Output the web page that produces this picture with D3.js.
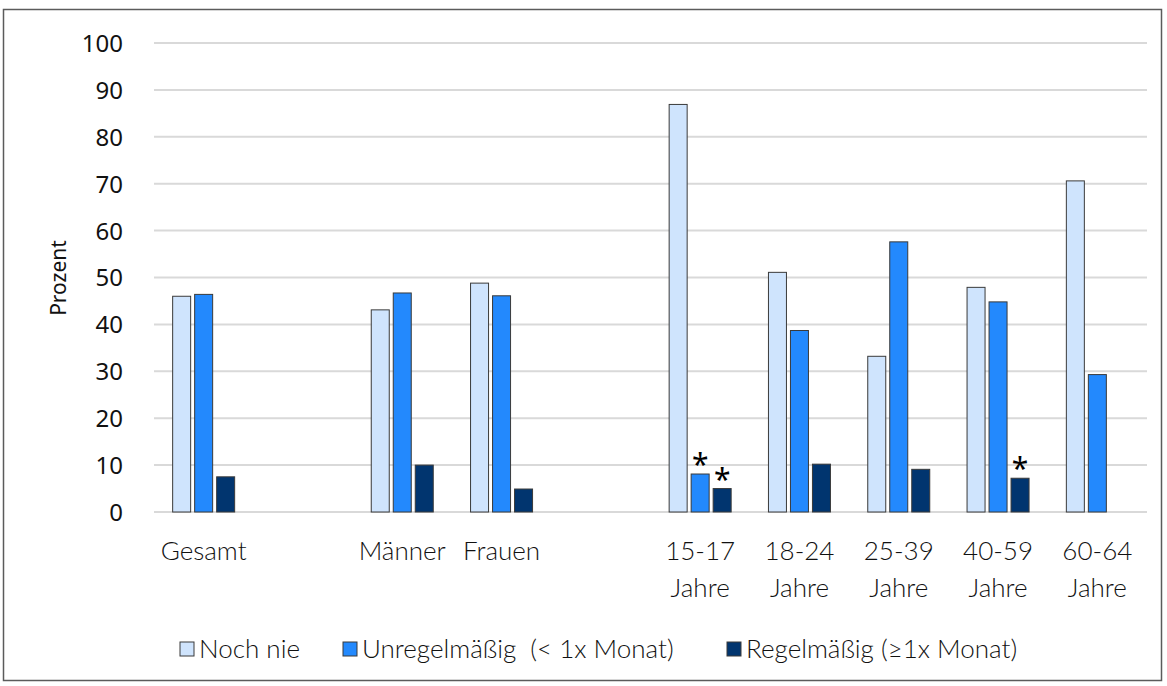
<!DOCTYPE html>
<html>
<head>
<meta charset="utf-8">
<script src="https://cdn.jsdelivr.net/npm/d3@7"></script>
<style>
  html, body { margin: 0; padding: 0; background: #fff; }
  svg { display: block; }
</style>
</head>
<body>
<svg id="chart" width="1167" height="686"></svg>
<script>
// Category slots; empty strings are spacer slots between groups
const categories = ["Gesamt", "", "Männer", "Frauen", "", "15-17 Jahre", "18-24 Jahre", "25-39 Jahre", "40-59 Jahre", "60-64 Jahre"];
const seriesNames = ["Noch nie", "Unregelmäßig  (< 1x Monat)", "Regelmäßig (≥1x Monat)"];
const nochNie      = [46.0, null, 43.1, 48.8, null, 86.9, 51.1, 33.2, 47.9, 70.6];
const unregelmaessig = [46.4, null, 46.7, 46.1, null, 8.1, 38.7, 57.6, 44.8, 29.3];
const regelmaessig = [7.5, null, 10.0, 4.9, null, 5.0, 10.2, 9.1, 7.2, null];
// Values flagged with an asterisk (small case numbers)
const starUnregelmaessig = [false, false, false, false, false, true, false, false, false, false];
const starRegelmaessig   = [false, false, false, false, false, true, false, false, true, false];
const yTicks = [0, 10, 20, 30, 40, 50, 60, 70, 80, 90, 100];
const yTitle = "Prozent";

const colors = ["#cfe4fd", "#2389fd", "#01356f"];
const seriesValues = [nochNie, unregelmaessig, regelmaessig];
const seriesStars = [null, starUnregelmaessig, starRegelmaessig];

const svg = d3.select("#chart");
const catFont = "Lato, 'Noto Sans', sans-serif";
const tickFont = "'Noto Sans', 'Open Sans', sans-serif";

// outer frame
svg.append("rect")
  .attr("x", 3.5).attr("y", 9.5)
  .attr("width", 1158).attr("height", 671)
  .attr("fill", "#fff").attr("stroke", "#5b5b5b").attr("stroke-width", 1.5);

const plot = { left: 154, right: 1147, top: 43, bottom: 512 };

const y = d3.scaleLinear().domain([0, 100]).range([plot.bottom, plot.top]);
const x0 = d3.scaleBand().domain(d3.range(categories.length)).range([plot.left, plot.right]).padding(0);
const x1 = d3.scaleBand().domain(d3.range(seriesNames.length)).range([0, 62]).paddingInner(4 / 22).paddingOuter(0);
const groupOffset = (x0.bandwidth() - 62) / 2;

// gridlines
svg.append("g").selectAll("line").data(yTicks).join("line")
  .attr("x1", plot.left).attr("x2", plot.right)
  .attr("y1", d => y(d)).attr("y2", d => y(d))
  .attr("stroke", "#d9d9d9").attr("stroke-width", 2);

// y axis tick labels
const yAxis = d3.axisLeft(y).tickValues(yTicks).tickSize(0).tickPadding(0);
const yg = svg.append("g").attr("transform", "translate(123,0)").call(yAxis);
yg.select(".domain").remove();
yg.selectAll("text")
  .attr("font-family", tickFont).attr("font-size", 24).attr("fill", "#111")
  .attr("dy", "0.35em");

// y title
svg.append("text")
  .attr("transform", "translate(66,278) rotate(-90)")
  .attr("text-anchor", "middle")
  .attr("font-family", tickFont).attr("font-size", 21).attr("fill", "#111")
  .text(yTitle);

// bars
const barsG = svg.append("g");
seriesValues.forEach((vals, s) => {
  const data = vals.map((v, i) => ({ i, v })).filter(d => d.v != null);
  barsG.append("g").selectAll("rect").data(data).join("rect")
    .attr("x", d => x0(d.i) + groupOffset + x1(s))
    .attr("y", d => y(d.v))
    .attr("width", x1.bandwidth())
    .attr("height", d => y(0) - y(d.v))
    .attr("fill", colors[s])
    .attr("stroke", "#3a3a3a").attr("stroke-width", 1);
  const stars = seriesStars[s];
  if (stars) {
    barsG.append("g").selectAll("text").data(data.filter(d => stars[d.i])).join("text")
      .attr("x", d => x0(d.i) + groupOffset + x1(s) + x1.bandwidth() / 2)
      .attr("y", d => y(d.v) + 1)
      .attr("text-anchor", "middle")
      .attr("font-family", tickFont).attr("font-size", 30).attr("fill", "#000")
      .text("*");
  }
});

// category labels (wrapped at the space before "Jahre")
const catG = svg.append("g");
categories.forEach((c, i) => {
  if (!c) return;
  const lines = c.endsWith(" Jahre") ? [c.replace(" Jahre", ""), "Jahre"] : [c];
  const t = catG.append("text")
    .attr("text-anchor", "middle")
    .attr("font-family", catFont).attr("font-size", 26).attr("font-weight", 300).attr("fill", "#111");
  lines.forEach((ln, k) => {
    t.append("tspan")
      .attr("x", x0(i) + x0.bandwidth() / 2)
      .attr("y", 560 + k * 37)
      .text(ln);
  });
});

// legend
const legendX = [180, 343, 727];
const lg = svg.append("g");
seriesNames.forEach((n, s) => {
  lg.append("rect")
    .attr("x", legendX[s]).attr("y", 642)
    .attr("width", 14).attr("height", 14)
    .attr("fill", colors[s]).attr("stroke", "#3a3a3a").attr("stroke-width", 1);
  lg.append("text")
    .attr("x", legendX[s] + 19).attr("y", 658)
    .attr("font-family", catFont).attr("font-size", 26).attr("font-weight", 300).attr("fill", "#111")
    .style("white-space", "pre")
    .text(n);
});
</script>
</body>
</html>
